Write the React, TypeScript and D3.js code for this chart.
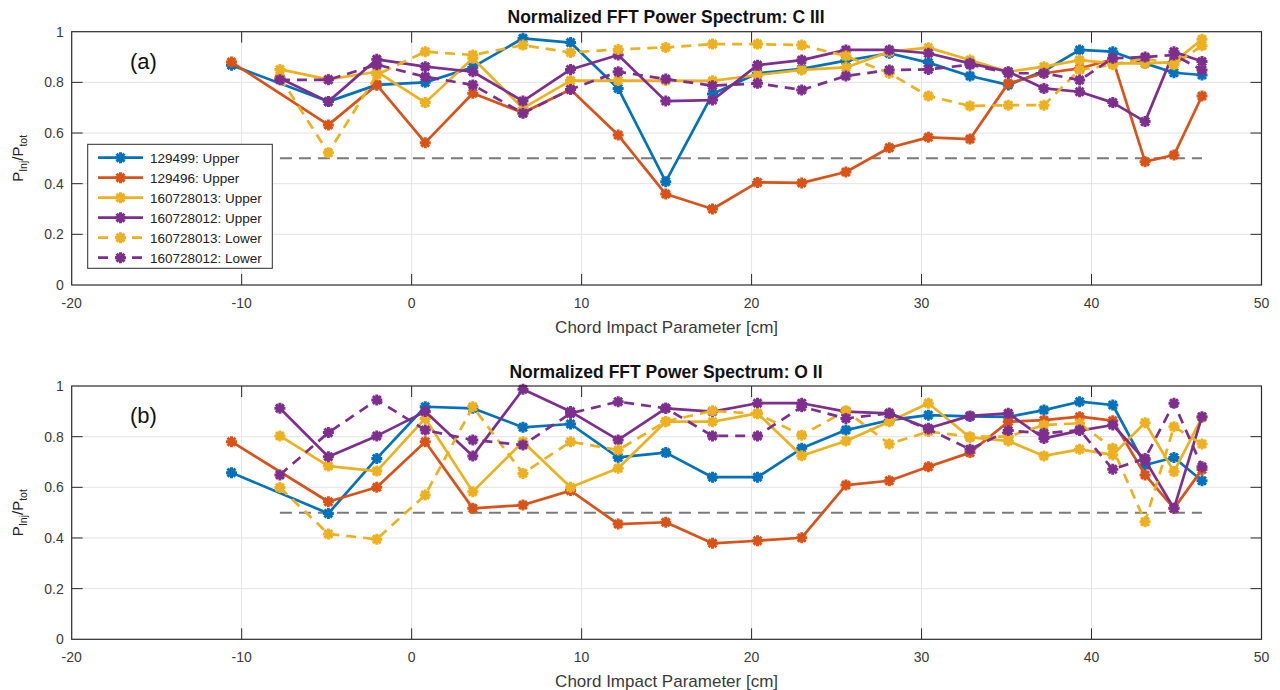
import React from "react";
import * as d3 from "d3";

// Chord impact parameters [cm] shared by all sightlines
const chordX = [
  -10.6, -7.75, -4.9, -2.05, 0.8, 3.6, 6.55, 9.35, 12.15, 14.95, 17.7, 20.35,
  22.95, 25.55, 28.1, 30.4, 32.85, 35.1, 37.2, 39.3, 41.25, 43.15, 44.85, 46.5,
];

const seriesNames = [
  "129499: Upper",
  "129496: Upper",
  "160728013: Upper",
  "160728012: Upper",
  "160728013: Lower",
  "160728012: Lower",
];
const seriesColors = ["#0072BD", "#D95319", "#EDB120", "#7E2F8E", "#EDB120", "#7E2F8E"];
const seriesDashed = [false, false, false, false, true, true];

// C III
const c3_129499U = [0.868, null, 0.724, 0.79, 0.8, 0.86, 0.974, 0.957, 0.776, 0.408, 0.754, 0.836, 0.853, 0.886, 0.915, 0.878, 0.825, 0.79, 0.845, 0.928, 0.921, 0.875, 0.838, 0.829];
const c3_129496U = [0.88, null, 0.632, 0.79, 0.562, 0.757, 0.68, 0.772, 0.592, 0.359, 0.3, 0.405, 0.403, 0.446, 0.542, 0.583, 0.576, 0.796, 0.836, 0.855, 0.891, 0.487, 0.513, 0.746];
const c3_160728013U = [null, 0.851, 0.812, 0.842, 0.72, 0.895, 0.698, 0.807, 0.807, 0.807, 0.806, 0.829, 0.849, 0.859, 0.921, 0.937, 0.888, 0.842, 0.862, 0.888, 0.875, 0.875, 0.88, 0.97];
const c3_160728012U = [null, 0.816, 0.724, 0.891, 0.862, 0.842, 0.726, 0.851, 0.908, 0.726, 0.73, 0.868, 0.888, 0.928, 0.928, 0.915, 0.875, 0.842, 0.776, 0.763, 0.72, 0.645, 0.921, 0.882];
const c3_160728013L = [null, 0.82, 0.522, 0.83, 0.921, 0.908, 0.947, 0.918, 0.93, 0.938, 0.951, 0.951, 0.947, 0.904, 0.836, 0.746, 0.707, 0.71, 0.71, 0.85, 0.87, 0.895, 0.87, 0.945];
const c3_160728012L = [null, 0.81, 0.81, 0.87, 0.822, 0.79, 0.678, 0.772, 0.842, 0.813, 0.787, 0.796, 0.77, 0.825, 0.849, 0.851, 0.87, 0.836, 0.836, 0.809, 0.895, 0.9, 0.908, 0.849];

// O II
const o2_129499U = [0.658, null, 0.497, 0.714, 0.918, 0.912, 0.837, 0.85, 0.718, 0.737, 0.64, 0.64, 0.754, 0.826, 0.865, 0.885, 0.88, 0.878, 0.905, 0.938, 0.925, 0.688, 0.718, 0.626];
const o2_129496U = [0.78, null, 0.543, 0.6, 0.78, 0.517, 0.53, 0.587, 0.455, 0.462, 0.379, 0.389, 0.401, 0.609, 0.626, 0.681, 0.737, 0.859, 0.865, 0.879, 0.863, 0.649, 0.517, 0.67];
const o2_160728013U = [null, 0.803, 0.684, 0.664, 0.872, 0.583, 0.78, 0.6, 0.675, 0.859, 0.859, 0.892, 0.725, 0.783, 0.859, 0.932, 0.797, 0.783, 0.724, 0.75, 0.728, 0.855, 0.662, 0.876];
const o2_160728012U = [null, 0.912, 0.721, 0.803, 0.899, 0.724, 0.987, 0.899, 0.787, 0.912, 0.899, 0.932, 0.932, 0.899, 0.892, 0.833, 0.882, 0.892, 0.793, 0.824, 0.846, 0.708, 0.517, 0.879];
const o2_160728013L = [null, 0.599, 0.416, 0.395, 0.57, 0.918, 0.655, 0.78, 0.747, 0.86, 0.902, 0.89, 0.806, 0.902, 0.771, 0.82, 0.8, 0.8, 0.846, 0.853, 0.754, 0.464, 0.839, 0.771];
const o2_160728012L = [null, 0.649, 0.816, 0.945, 0.826, 0.787, 0.767, 0.892, 0.938, 0.912, 0.803, 0.803, 0.918, 0.872, 0.892, 0.83, 0.75, 0.824, 0.813, 0.826, 0.671, 0.714, 0.932, 0.681];

const xTicks = [-20, -10, 0, 10, 20, 30, 40, 50];
const yTicks = [0, 0.2, 0.4, 0.6, 0.8, 1];
const yTickLabels = ["0", "0.2", "0.4", "0.6", "0.8", "1"];
const threshold = 0.5;
const thresholdRange = [-7.75, 46.5];

const panels = [
  {
    title: "Normalized FFT Power Spectrum: C III",
    tag: "(a)",
    top: 31.7,
    bottom: 285,
    series: [c3_129499U, c3_129496U, c3_160728013U, c3_160728012U, c3_160728013L, c3_160728012L],
    legend: true,
  },
  {
    title: "Normalized FFT Power Spectrum: O II",
    tag: "(b)",
    top: 386,
    bottom: 639.3,
    series: [o2_129499U, o2_129496U, o2_160728013U, o2_160728012U, o2_160728013L, o2_160728012L],
    legend: false,
  },
];

const FONT = "'Liberation Sans', Arial, Helvetica, sans-serif";
const AXIS = "#2b2b2b";
const TEXT = "#3a3a3a";
const LEFT = 71.7;
const RIGHT = 1261.5;
const LW = 2.7;

// '*' marker: plus and cross combined
const starPath = (r: number) => {
  const d = r * 0.72;
  return `M${-r},0L${r},0M0,${-r}L0,${r}M${-d},${-d}L${d},${d}M${-d},${d}L${d},${-d}`;
};

function Panel({ p }: { p: (typeof panels)[number] }) {
  const x = d3.scaleLinear().domain([-20, 50]).range([LEFT, RIGHT]);
  const y = d3.scaleLinear().domain([0, 1]).range([p.bottom, p.top]);
  const tickLen = 11;
  const line = d3
    .line<[number, number]>()
    .x((d) => x(d[0]))
    .y((d) => y(d[1]));
  const midY = (p.top + p.bottom) / 2;

  return (
    <g>
      {/* grid */}
      {xTicks.slice(1, -1).map((t) => (
        <line key={"gx" + t} x1={x(t)} x2={x(t)} y1={p.top} y2={p.bottom} stroke="#e3e3e3" strokeWidth={1} />
      ))}
      {yTicks.slice(1, -1).map((t) => (
        <line key={"gy" + t} x1={LEFT} x2={RIGHT} y1={y(t)} y2={y(t)} stroke="#e3e3e3" strokeWidth={1} />
      ))}
      {/* inward ticks on all four sides */}
      {xTicks.slice(1, -1).map((t) => (
        <g key={"tx" + t}>
          <line x1={x(t)} x2={x(t)} y1={p.bottom} y2={p.bottom - tickLen} stroke={AXIS} strokeWidth={1} />
          <line x1={x(t)} x2={x(t)} y1={p.top} y2={p.top + tickLen} stroke={AXIS} strokeWidth={1} />
        </g>
      ))}
      {yTicks.slice(1, -1).map((t) => (
        <g key={"ty" + t}>
          <line x1={LEFT} x2={LEFT + tickLen} y1={y(t)} y2={y(t)} stroke={AXIS} strokeWidth={1} />
          <line x1={RIGHT} x2={RIGHT - tickLen} y1={y(t)} y2={y(t)} stroke={AXIS} strokeWidth={1} />
        </g>
      ))}
      {/* threshold */}
      <line
        x1={x(thresholdRange[0])}
        x2={x(thresholdRange[1])}
        y1={y(threshold)}
        y2={y(threshold)}
        stroke="#7a7a7a"
        strokeWidth={2}
        strokeDasharray="12 7"
      />
      {/* series: missing chords are skipped, the line joins the measured ones */}
      {p.series.map((vals, si) => {
        const pts: [number, number][] = chordX
          .map((cx, i) => [cx, vals[i]] as [number, number | null])
          .filter((d) => d[1] !== null) as [number, number][];
        return (
          <g key={"s" + si}>
            <path
              d={line(pts) || ""}
              fill="none"
              stroke={seriesColors[si]}
              strokeWidth={LW}
              strokeDasharray={seriesDashed[si] ? "10 7" : undefined}
              strokeLinejoin="round"
            />
            {pts.map((d, i) => (
              <path
                key={i}
                d={starPath(5.5)}
                transform={`translate(${x(d[0])},${y(d[1])})`}
                stroke={seriesColors[si]}
                strokeWidth={3}
                fill="none"
              />
            ))}
          </g>
        );
      })}
      {/* box */}
      <rect x={LEFT} y={p.top} width={RIGHT - LEFT} height={p.bottom - p.top} fill="none" stroke={AXIS} strokeWidth={1.2} />
      {/* tick labels */}
      {xTicks.map((t) => (
        <text key={"lx" + t} x={x(t)} y={p.bottom + 23} textAnchor="middle" fontSize={14} fill={TEXT} fontFamily={FONT}>
          {t}
        </text>
      ))}
      {yTicks.map((t, i) => (
        <text key={"ly" + t} x={LEFT - 8} y={y(t)} dy="0.35em" textAnchor="end" fontSize={14} fill={TEXT} fontFamily={FONT}>
          {yTickLabels[i]}
        </text>
      ))}
      {/* titles */}
      <text x={666} y={p.top - 8.5} textAnchor="middle" fontSize={17.5} fontWeight="bold" fill="#111" fontFamily={FONT}>
        {p.title}
      </text>
      <text x={(LEFT + RIGHT) / 2} y={p.bottom + 48} textAnchor="middle" fontSize={17} fill={TEXT} fontFamily={FONT}>
        Chord Impact Parameter [cm]
      </text>
      <text
        transform={`translate(23,${midY}) rotate(-90)`}
        textAnchor="middle"
        fontSize={15}
        fill="#222"
        fontFamily={FONT}
      >
        P<tspan fontSize={10.5} dy={4}>Inj</tspan>
        <tspan dy={-4}>/P</tspan>
        <tspan fontSize={10.5} dy={4}>tot</tspan>
      </text>
      <text x={130} y={p.top + 37} fontSize={22} fill="#111" fontFamily={FONT}>
        {p.tag}
      </text>
      {p.legend && (
        <g>
          <rect x={87.7} y={144.3} width={184.6} height={124} fill="#fff" stroke={AXIS} strokeWidth={1} />
          {seriesNames.map((name, i) => {
            const ly = 157.7 + i * 20;
            return (
              <g key={name}>
                <line
                  x1={98}
                  x2={143}
                  y1={ly}
                  y2={ly}
                  stroke={seriesColors[i]}
                  strokeWidth={LW}
                  strokeDasharray={seriesDashed[i] ? "10 7" : undefined}
                />
                <path d={starPath(5.5)} transform={`translate(120.5,${ly})`} stroke={seriesColors[i]} strokeWidth={3} fill="none" />
                <text x={150} y={ly} dy="0.36em" fontSize={13.5} fill="#222" fontFamily={FONT}>
                  {name}
                </text>
              </g>
            );
          })}
        </g>
      )}
    </g>
  );
}

export default function App() {
  return (
    <svg width={1280} height={690} style={{ position: "absolute", left: 0, top: 0, background: "#fff" }}>
      <rect width={1280} height={690} fill="#fff" />
      {panels.map((p) => (
        <Panel key={p.tag} p={p} />
      ))}
    </svg>
  );
}
